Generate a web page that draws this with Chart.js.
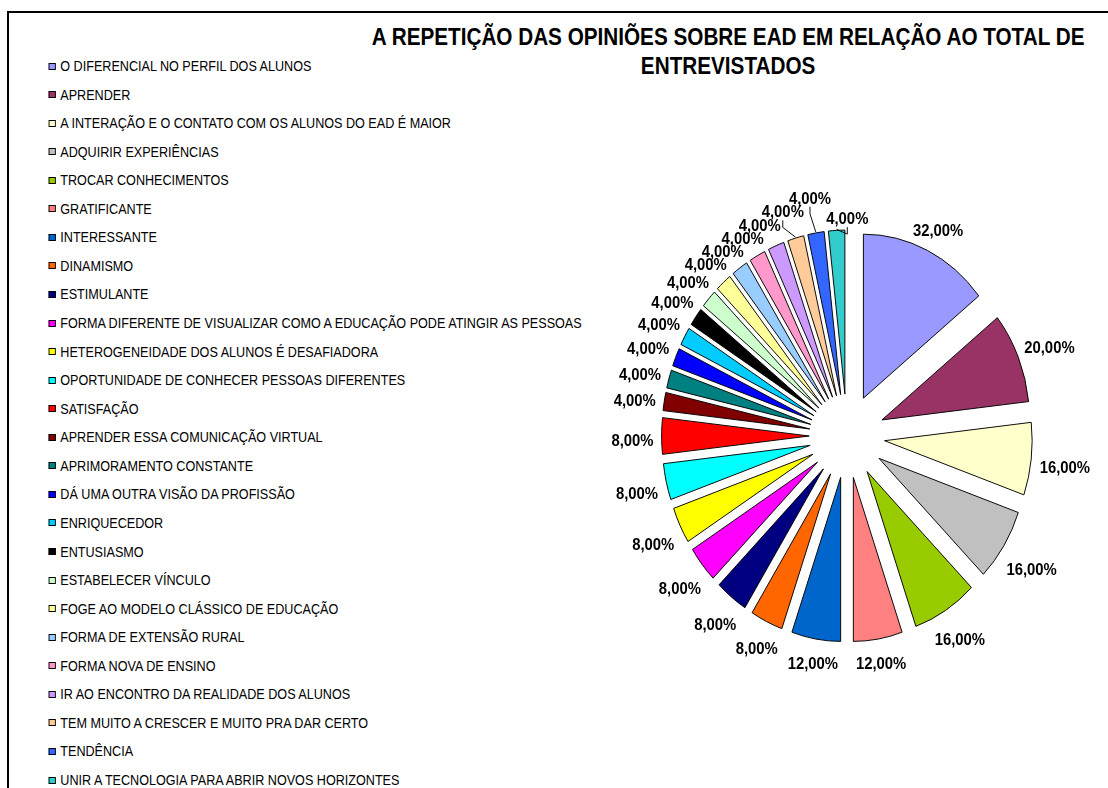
<!DOCTYPE html>
<html lang="pt">
<head>
<meta charset="utf-8">
<title>A repetição das opiniões sobre EAD</title>
<script src="https://cdn.jsdelivr.net/npm/chart.js@4.4.1/dist/chart.umd.min.js"></script>
<style>
  html, body { margin: 0; padding: 0; background: #fff; }
  body {
    width: 1108px; height: 788px; overflow: hidden; position: relative;
    font-family: "Liberation Sans", Arial, sans-serif; color: #000;
  }
  /* only the left and top edges of the chart frame are in view */
  #frame {
    position: absolute; left: 7px; top: 11px; right: -20px; bottom: -20px;
    border-left: 2px solid #000; border-top: 2px solid #000;
  }
  /* the original is squashed sideways, text included */
  #squeeze {
    position: absolute; left: 0; top: 0; width: 1231px; height: 788px;
    transform: scaleX(0.9); transform-origin: 0 0;
  }
  #title {
    position: absolute; left: 309px; top: 23px; width: 1000px;
    text-align: center; font-weight: bold; font-size: 23px; line-height: 29px;
  }
  .item {
    position: absolute; left: 54px; height: 16px; line-height: 16px;
    font-size: 14px; white-space: nowrap; display: flex; align-items: center;
  }
  .item i {
    display: inline-block; width: 6px; height: 5px; border: 1px solid #000;
    margin-right: 5px;
  }
  #pie { position: absolute; left: 567px; top: 156px; }
</style>
</head>
<body>
<div id="frame"></div>
<div id="squeeze">
  <div id="title"></div>
  <div id="legend"></div>
</div>
<canvas id="pie" width="560" height="560"></canvas>

<script>
// ── Data ──────────────────────────────────────────────────────────

const chartTitle = [
  'A REPETIÇÃO DAS OPINIÕES SOBRE EAD EM RELAÇÃO AO TOTAL DE',
  'ENTREVISTADOS'
];

const categories = [
  'O DIFERENCIAL NO PERFIL DOS ALUNOS',
  'APRENDER',
  'A INTERAÇÃO E O CONTATO COM OS ALUNOS DO EAD É MAIOR',
  'ADQUIRIR EXPERIÊNCIAS',
  'TROCAR CONHECIMENTOS',
  'GRATIFICANTE',
  'INTERESSANTE',
  'DINAMISMO',
  'ESTIMULANTE',
  'FORMA DIFERENTE DE VISUALIZAR COMO A EDUCAÇÃO PODE ATINGIR AS PESSOAS',
  'HETEROGENEIDADE DOS ALUNOS É DESAFIADORA',
  'OPORTUNIDADE DE CONHECER PESSOAS DIFERENTES',
  'SATISFAÇÃO',
  'APRENDER ESSA COMUNICAÇÃO VIRTUAL',
  'APRIMORAMENTO CONSTANTE',
  'DÁ UMA OUTRA VISÃO DA PROFISSÃO',
  'ENRIQUECEDOR',
  'ENTUSIASMO',
  'ESTABELECER VÍNCULO',
  'FOGE AO MODELO CLÁSSICO DE EDUCAÇÃO',
  'FORMA DE EXTENSÃO RURAL',
  'FORMA NOVA DE ENSINO',
  'IR AO ENCONTRO DA REALIDADE DOS ALUNOS',
  'TEM MUITO A CRESCER E MUITO PRA DAR CERTO',
  'TENDÊNCIA',
  'UNIR A TECNOLOGIA PARA ABRIR NOVOS HORIZONTES'
];

// percentage of interviewees giving each opinion
const values = [32, 20, 16, 16, 16, 12, 12, 8, 8, 8, 8, 8, 8,
                4, 4, 4, 4, 4, 4, 4, 4, 4, 4, 4, 4, 4];

// ── Style ─────────────────────────────────────────────────────────

const sliceColors = [
  '#9999FF', '#993366', '#FFFFCC', '#C0C0C0', '#99CC00', '#FF8080', '#0066CC',
  '#FF6600', '#000080', '#FF00FF', '#FFFF00', '#00FFFF', '#FF0000', '#800000',
  '#008080', '#0000FF', '#00CCFF', '#000000', '#CCFFCC', '#FFFF99', '#99CCFF',
  '#FF99CC', '#CC99FF', '#FFCC99', '#3366FF', '#33CCCC'
];

const SQUEEZE    = 0.9;   // horizontal squash of the whole picture
const EXPLODE    = 42;    // how far each slice is pulled out
const RADIUS     = 164;
const LABEL_SIZE = 16.5;
const LABEL_FONT = `bold ${LABEL_SIZE}px "Liberation Sans", Arial, sans-serif`;
const CAP_H      = LABEL_SIZE * 0.716;
const BOX_H      = 13.5;  // label box height used for collisions
const LABEL_GAP  = 9;
const LABEL_DROP = 4;     // Excel sits its labels a touch low
const RING       = RADIUS + EXPLODE + 20;

const fmtPct = v => v.toFixed(2).replace('.', ',') + '%';

// ── Title + legend (HTML) ─────────────────────────────────────────

document.getElementById('title').innerHTML = chartTitle.join('<br>');

const legendEl = document.getElementById('legend');
categories.forEach((name, i) => {
  const row = document.createElement('div');
  row.className = 'item';
  row.style.top = (66 + i * 28.56 - 8) + 'px';
  const box = document.createElement('i');
  box.style.background = sliceColors[i];
  row.appendChild(box);
  row.appendChild(document.createTextNode(name));
  legendEl.appendChild(row);
});

// ── Plugins ───────────────────────────────────────────────────────

function centerOf(chart) {
  const a = chart.chartArea;
  return { cx: (a.left + a.right) / 2, cy: (a.top + a.bottom) / 2 };
}

// squash everything drawn on the canvas sideways, around the pie centre
const squeezePlugin = {
  id: 'squeeze',
  beforeDraw(chart) {
    const { cx } = centerOf(chart);
    const ctx = chart.ctx;
    ctx.save();
    ctx.translate(cx, 0);
    ctx.scale(SQUEEZE, 1);
    ctx.translate(-cx, 0);
  },
  afterDraw(chart) { chart.ctx.restore(); }
};

// Excel-style explosion: move every arc out along its bisector
const explodePlugin = {
  id: 'explode',
  beforeDatasetsDraw(chart) {
    const { cx, cy } = centerOf(chart);
    chart.getDatasetMeta(0).data.forEach(arc => {
      const mid = (arc.startAngle + arc.endAngle) / 2;
      arc.x = cx + Math.cos(mid) * EXPLODE;
      arc.y = cy + Math.sin(mid) * EXPLODE;
    });
  }
};

// percentage labels outside the slices; colliding ones slide round or move out
const pctLabels = {
  id: 'pctLabels',
  afterDatasetsDraw(chart) {
    const { cx, cy } = centerOf(chart);
    const ctx  = chart.ctx;
    const arcs = chart.getDatasetMeta(0).data;
    const vals = chart.data.datasets[0].data;

    ctx.save();
    ctx.font = LABEL_FONT;

    const place = it => {
      const c = Math.cos(it.ang), s = Math.sin(it.ang);
      const r = RADIUS + EXPLODE + LABEL_GAP + it.out
              + Math.abs(c) * it.w / 2 + Math.abs(s) * BOX_H / 2;
      it.x = cx + c * r;
      it.y = cy + s * r + LABEL_DROP;
    };

    const items = arcs.map((arc, i) => {
      const text = fmtPct(vals[i]);
      const mid  = (arc.startAngle + arc.endAngle) / 2;
      const it   = { text, w: ctx.measureText(text).width, nat: mid, ang: mid, out: 0 };
      place(it);
      it.nx = it.x; it.ny = it.y;
      return it;
    });

    const ovl = (p, q) => {
      const ox = (p.w + q.w) / 2 + 3 - Math.abs(p.x - q.x);
      const oy = BOX_H - Math.abs(p.y - q.y);
      return ox > 0 && oy > 0 ? ox * oy : 0;
    };
    // sliding back (anticlockwise) costs more than sliding on or moving out
    const cost = it => {
      let c = 0;
      items.forEach(o => { if (o !== it) c += ovl(it, o) * 4; });
      const slide = (it.ang - it.nat) * RING;
      const k = slide < 0 ? 0.04 : 0.012;
      return c + k * slide * slide + 0.02 * it.out * it.out;
    };
    const moves = [[1 / RING, 0], [-1 / RING, 0], [0, 1], [0, -1]];

    // greedy one-pixel steps until nothing overlaps
    for (let pass = 0; pass < 1500; pass++) {
      let busy = false;
      items.forEach(it => {
        if (!items.some(o => o !== it && ovl(it, o) > 0)) return;
        busy = true;
        const start = { ang: it.ang, out: it.out };
        let best = start, bestCost = cost(it);
        moves.forEach(([da, dr]) => {
          it.ang = start.ang + da;
          it.out = Math.max(0, start.out + dr);
          place(it);
          const c = cost(it);
          if (c < bestCost - 1e-9) { bestCost = c; best = { ang: it.ang, out: it.out }; }
        });
        it.ang = best.ang; it.out = best.out;
        place(it);
      });
      if (!busy) break;
    }

    ctx.strokeStyle = '#000';
    ctx.fillStyle   = '#000';
    ctx.lineWidth   = 1;
    ctx.textAlign   = 'center';
    ctx.textBaseline = 'alphabetic';

    items.forEach(it => {
      if (Math.hypot(it.x - it.nx, it.y - it.ny) > 12) {
        const tr = RADIUS + EXPLODE + 1;
        const tx = cx + Math.cos(it.nat) * tr;
        const ty = cy + Math.sin(it.nat) * tr;
        const bottom = it.y + CAP_H / 2 + 3;
        const right  = it.x + it.w / 2 + 3, left = it.x - it.w / 2 - 3;
        let pts;
        if (tx > right && tx - right > ty - bottom)      pts = [[right, it.y], [right + 5, it.y], [tx, ty]];
        else if (tx < left && left - tx > ty - bottom)   pts = [[left, it.y], [left - 5, it.y], [tx, ty]];
        else                                             pts = [[it.x, bottom], [it.x, bottom + 7], [tx, ty]];
        ctx.beginPath();
        ctx.moveTo(pts[0][0], pts[0][1]);
        pts.slice(1).forEach(p => ctx.lineTo(p[0], p[1]));
        ctx.stroke();
      }
      ctx.fillText(it.text, it.x, it.y + CAP_H / 2);
    });

    ctx.restore();
  }
};

// ── Chart ─────────────────────────────────────────────────────────

new Chart(document.getElementById('pie').getContext('2d'), {
  type: 'pie',
  data: {
    labels: categories,
    datasets: [{
      data: values,
      backgroundColor: sliceColors,
      borderColor: '#000',
      borderWidth: 1,
      radius: RADIUS
    }]
  },
  options: {
    responsive: false,
    animation: false,
    events: [],
    layout: { padding: 0 },
    plugins: {
      legend:  { display: false },
      tooltip: { enabled: false }
    }
  },
  plugins: [squeezePlugin, explodePlugin, pctLabels]
});
</script>
</body>
</html>
